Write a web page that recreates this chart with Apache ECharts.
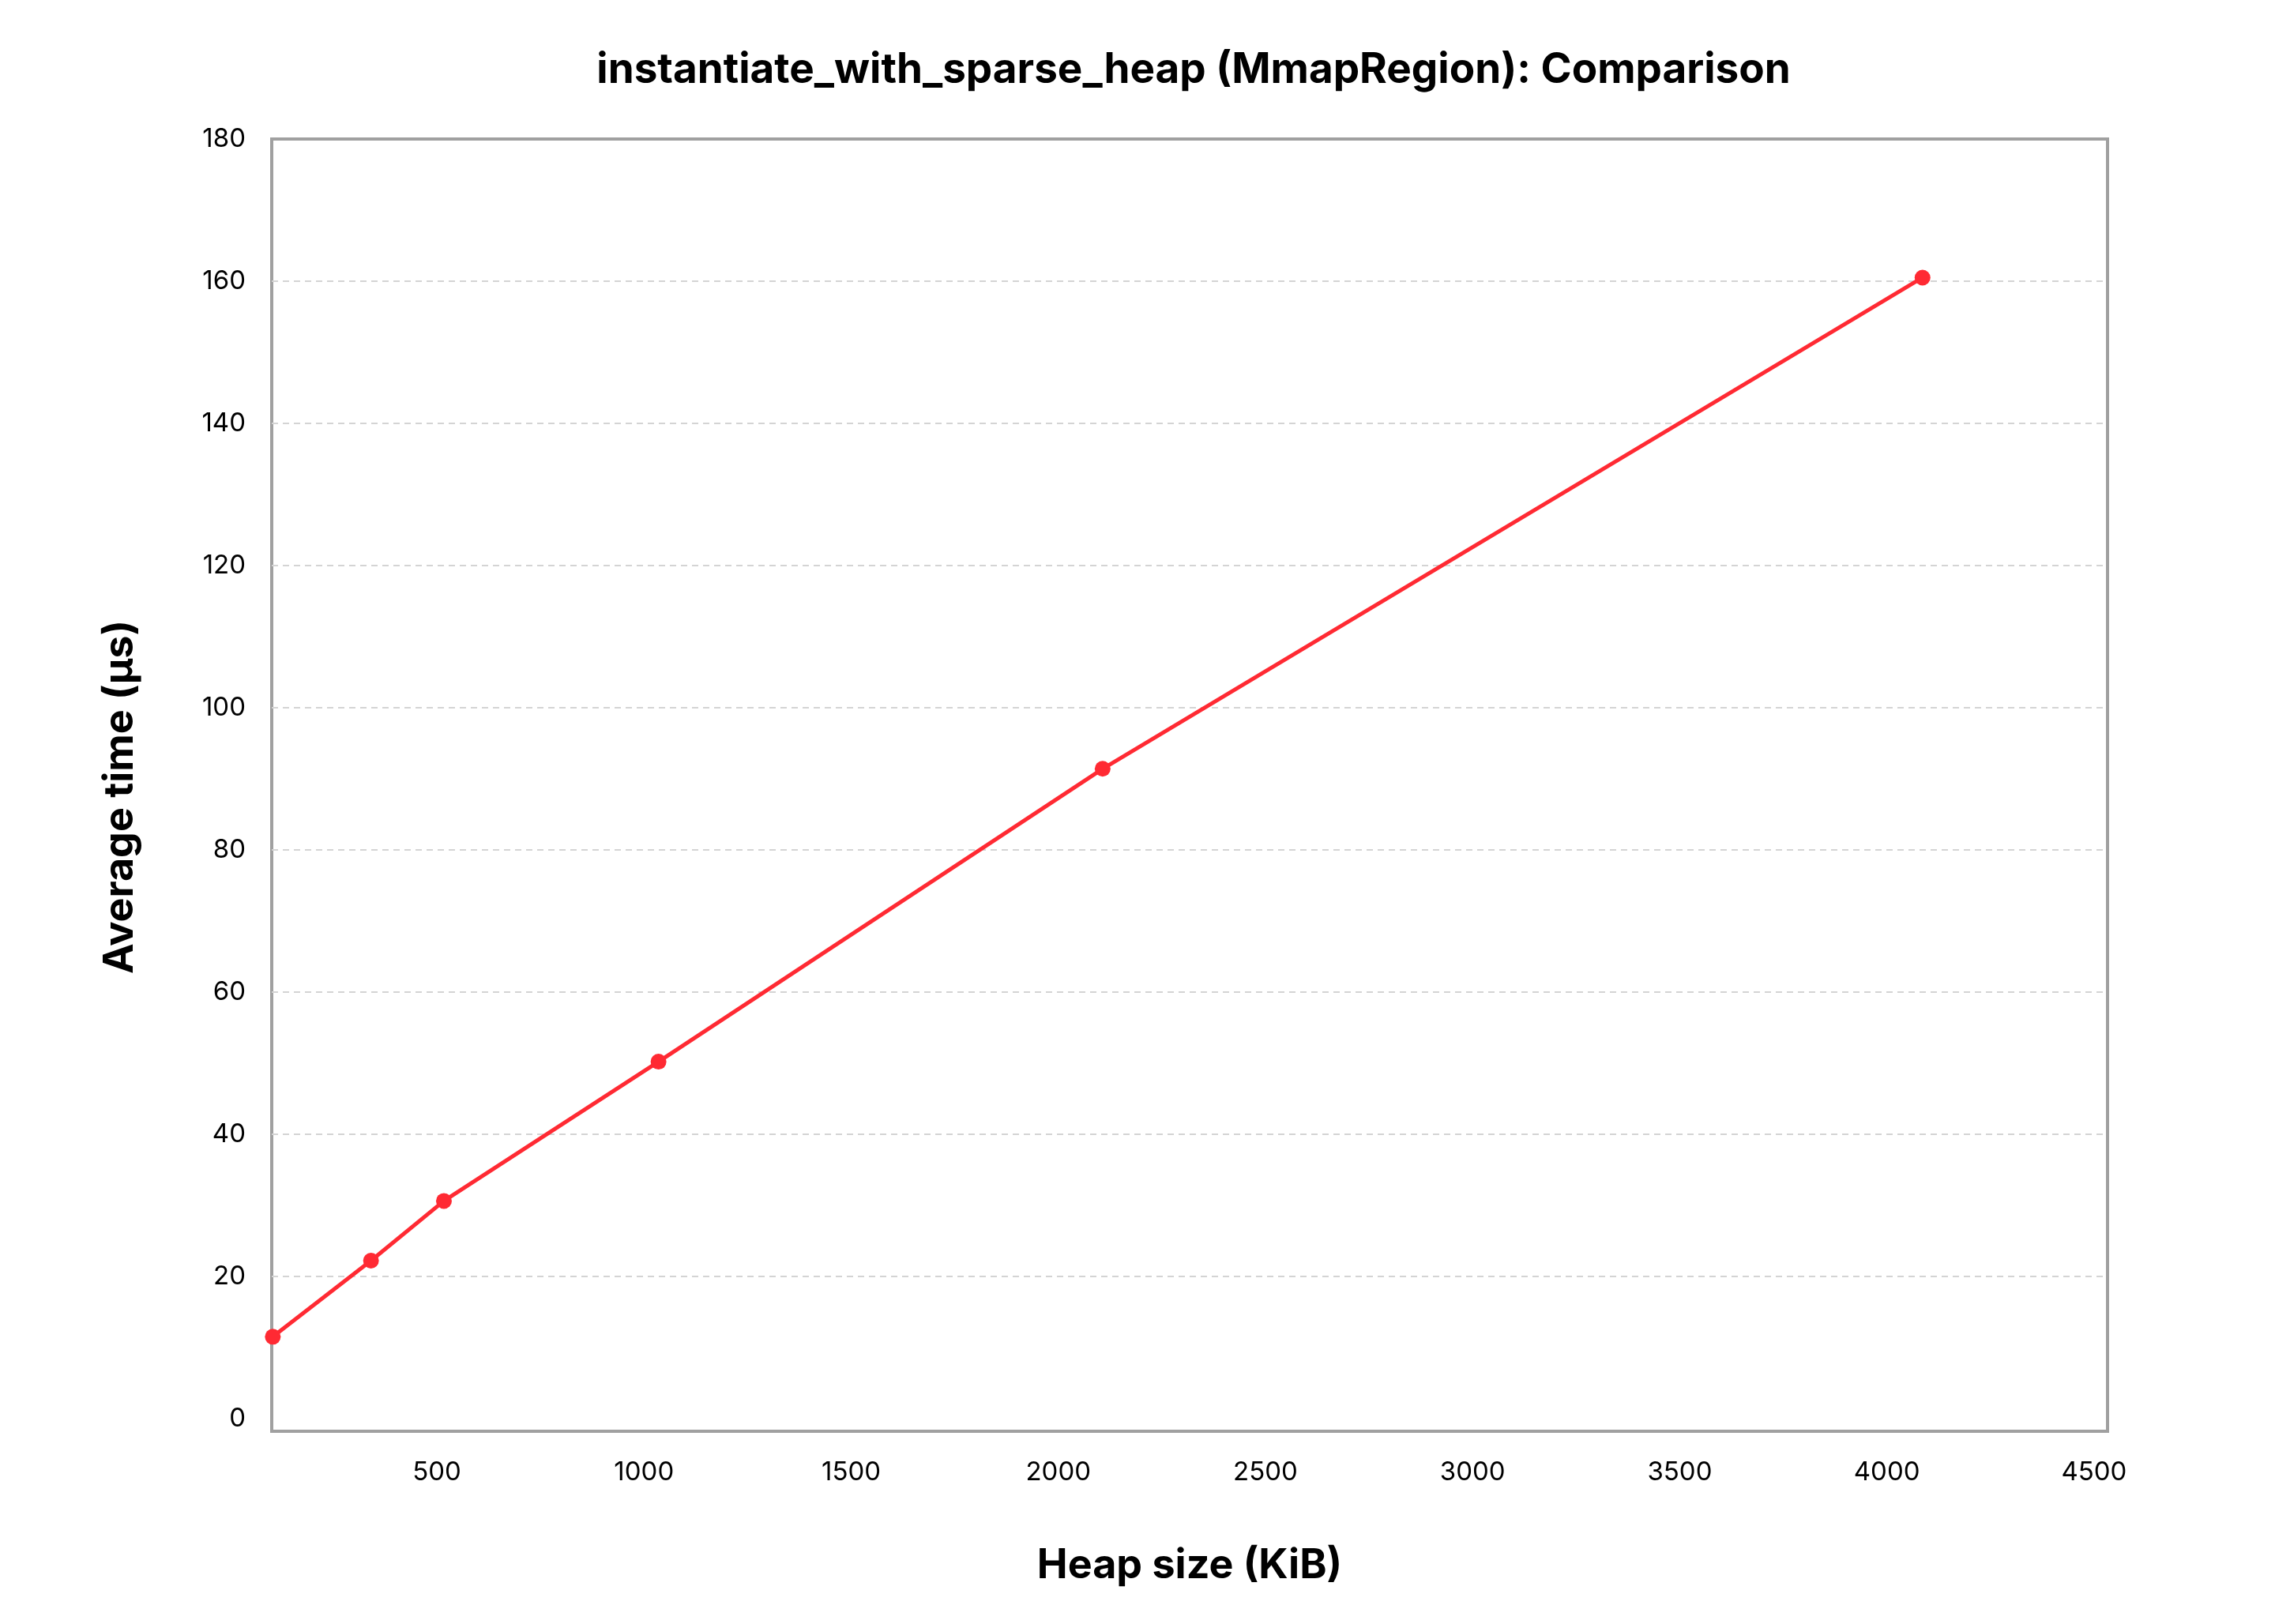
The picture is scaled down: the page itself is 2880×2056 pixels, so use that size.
<!DOCTYPE html>
<html lang="en">
<head>
  <meta charset="UTF-8">
  <script src="https://cdn.jsdelivr.net/npm/echarts@6/dist/echarts.min.js"></script>
  <title>instantiate_with_sparse_heap comparison</title>
  <style>
    html, body { margin: 0; padding: 0; background: #fff; }
  </style>
</head>
<body>
<div id="chart" style="width: 2880px; height: 2056px;"></div>
<script type="text/javascript">
  // values
  let heapSizes = [104, 341, 517, 1035, 2107, 4086];
  let avgTimes  = [11.5, 22.2, 30.6, 50.2, 91.4, 160.5];
  let xRange    = [101.4, 4532.6];
  let yRange    = [-1.8, 180];

  let font = 'Inter, "Noto Sans", sans-serif';
  let gridColor = '#d4d4d4';
  let none = 'rgba(0,0,0,0)';

  function main() {
    let points = heapSizes.map(function (x, i) { return [x, avgTimes[i]]; });
    let chart = echarts.init(document.getElementById('chart'));
    chart.setOption({
      animation: false,
      backgroundColor: '#ffffff',
      title: {
        text: 'instantiate_with_sparse_heap (MmapRegion): Comparison',
        // title sits over the middle of the plot area, not the page
        left: 1506,
        textAlign: 'center',
        top: 58,
        textStyle: { fontFamily: font, fontSize: 53, fontWeight: 'bold', color: '#000' }
      },
      grid: {
        left: 344,
        right: 212,
        top: 176,
        bottom: 244,
        show: true,
        borderColor: '#a0a0a0',
        borderWidth: 4,
        outerBoundsMode: 'none'
      },
      xAxis: {
        type: 'value',
        min: xRange[0],
        max: xRange[1],
        splitNumber: 9,
        name: 'Heap size (KiB)',
        nameLocation: 'middle',
        nameGap: 144,
        nameTextStyle: { fontFamily: font, fontSize: 52, fontWeight: 'bold', color: '#000' },
        axisLine: { show: false },
        axisTick: { show: false },
        splitLine: { show: false },
        axisLabel: {
          margin: 36,
          fontFamily: font,
          fontSize: 33,
          color: '#000',
          showMinLabel: false,
          formatter: function (v) { return v % 500 === 0 ? String(v) : ''; }
        }
      },
      yAxis: {
        type: 'value',
        min: yRange[0],
        max: yRange[1],
        splitNumber: 9,
        name: 'Average time (µs)',
        nameLocation: 'middle',
        nameGap: 166,
        nameTextStyle: {
          fontFamily: font, fontSize: 52, fontWeight: 'bold', color: '#000',
          padding: [0, 30, 0, 0]
        },
        axisLine: { show: false },
        axisTick: { show: false },
        splitLine: {
          show: true,
          showMinLine: false,
          showMaxLine: false,
          // no dashed line at 0, one at every other step
          lineStyle: {
            color: [none, gridColor, gridColor, gridColor, gridColor, gridColor, gridColor, gridColor, gridColor],
            width: 2,
            type: [8, 6]
          }
        },
        axisLabel: {
          margin: 33,
          fontFamily: font,
          fontSize: 33,
          color: '#000',
          showMinLabel: false,
          formatter: function (v) { return v % 20 === 0 ? String(v) : ''; }
        }
      },
      series: [
        {
          type: 'line',
          data: points,
          symbol: 'circle',
          symbolSize: 20,
          z: 5,
          itemStyle: { color: '#ff2a33' },
          lineStyle: { color: '#ff2a33', width: 5 }
        }
      ]
    });
  }

  main();
</script>
</body>
</html>
